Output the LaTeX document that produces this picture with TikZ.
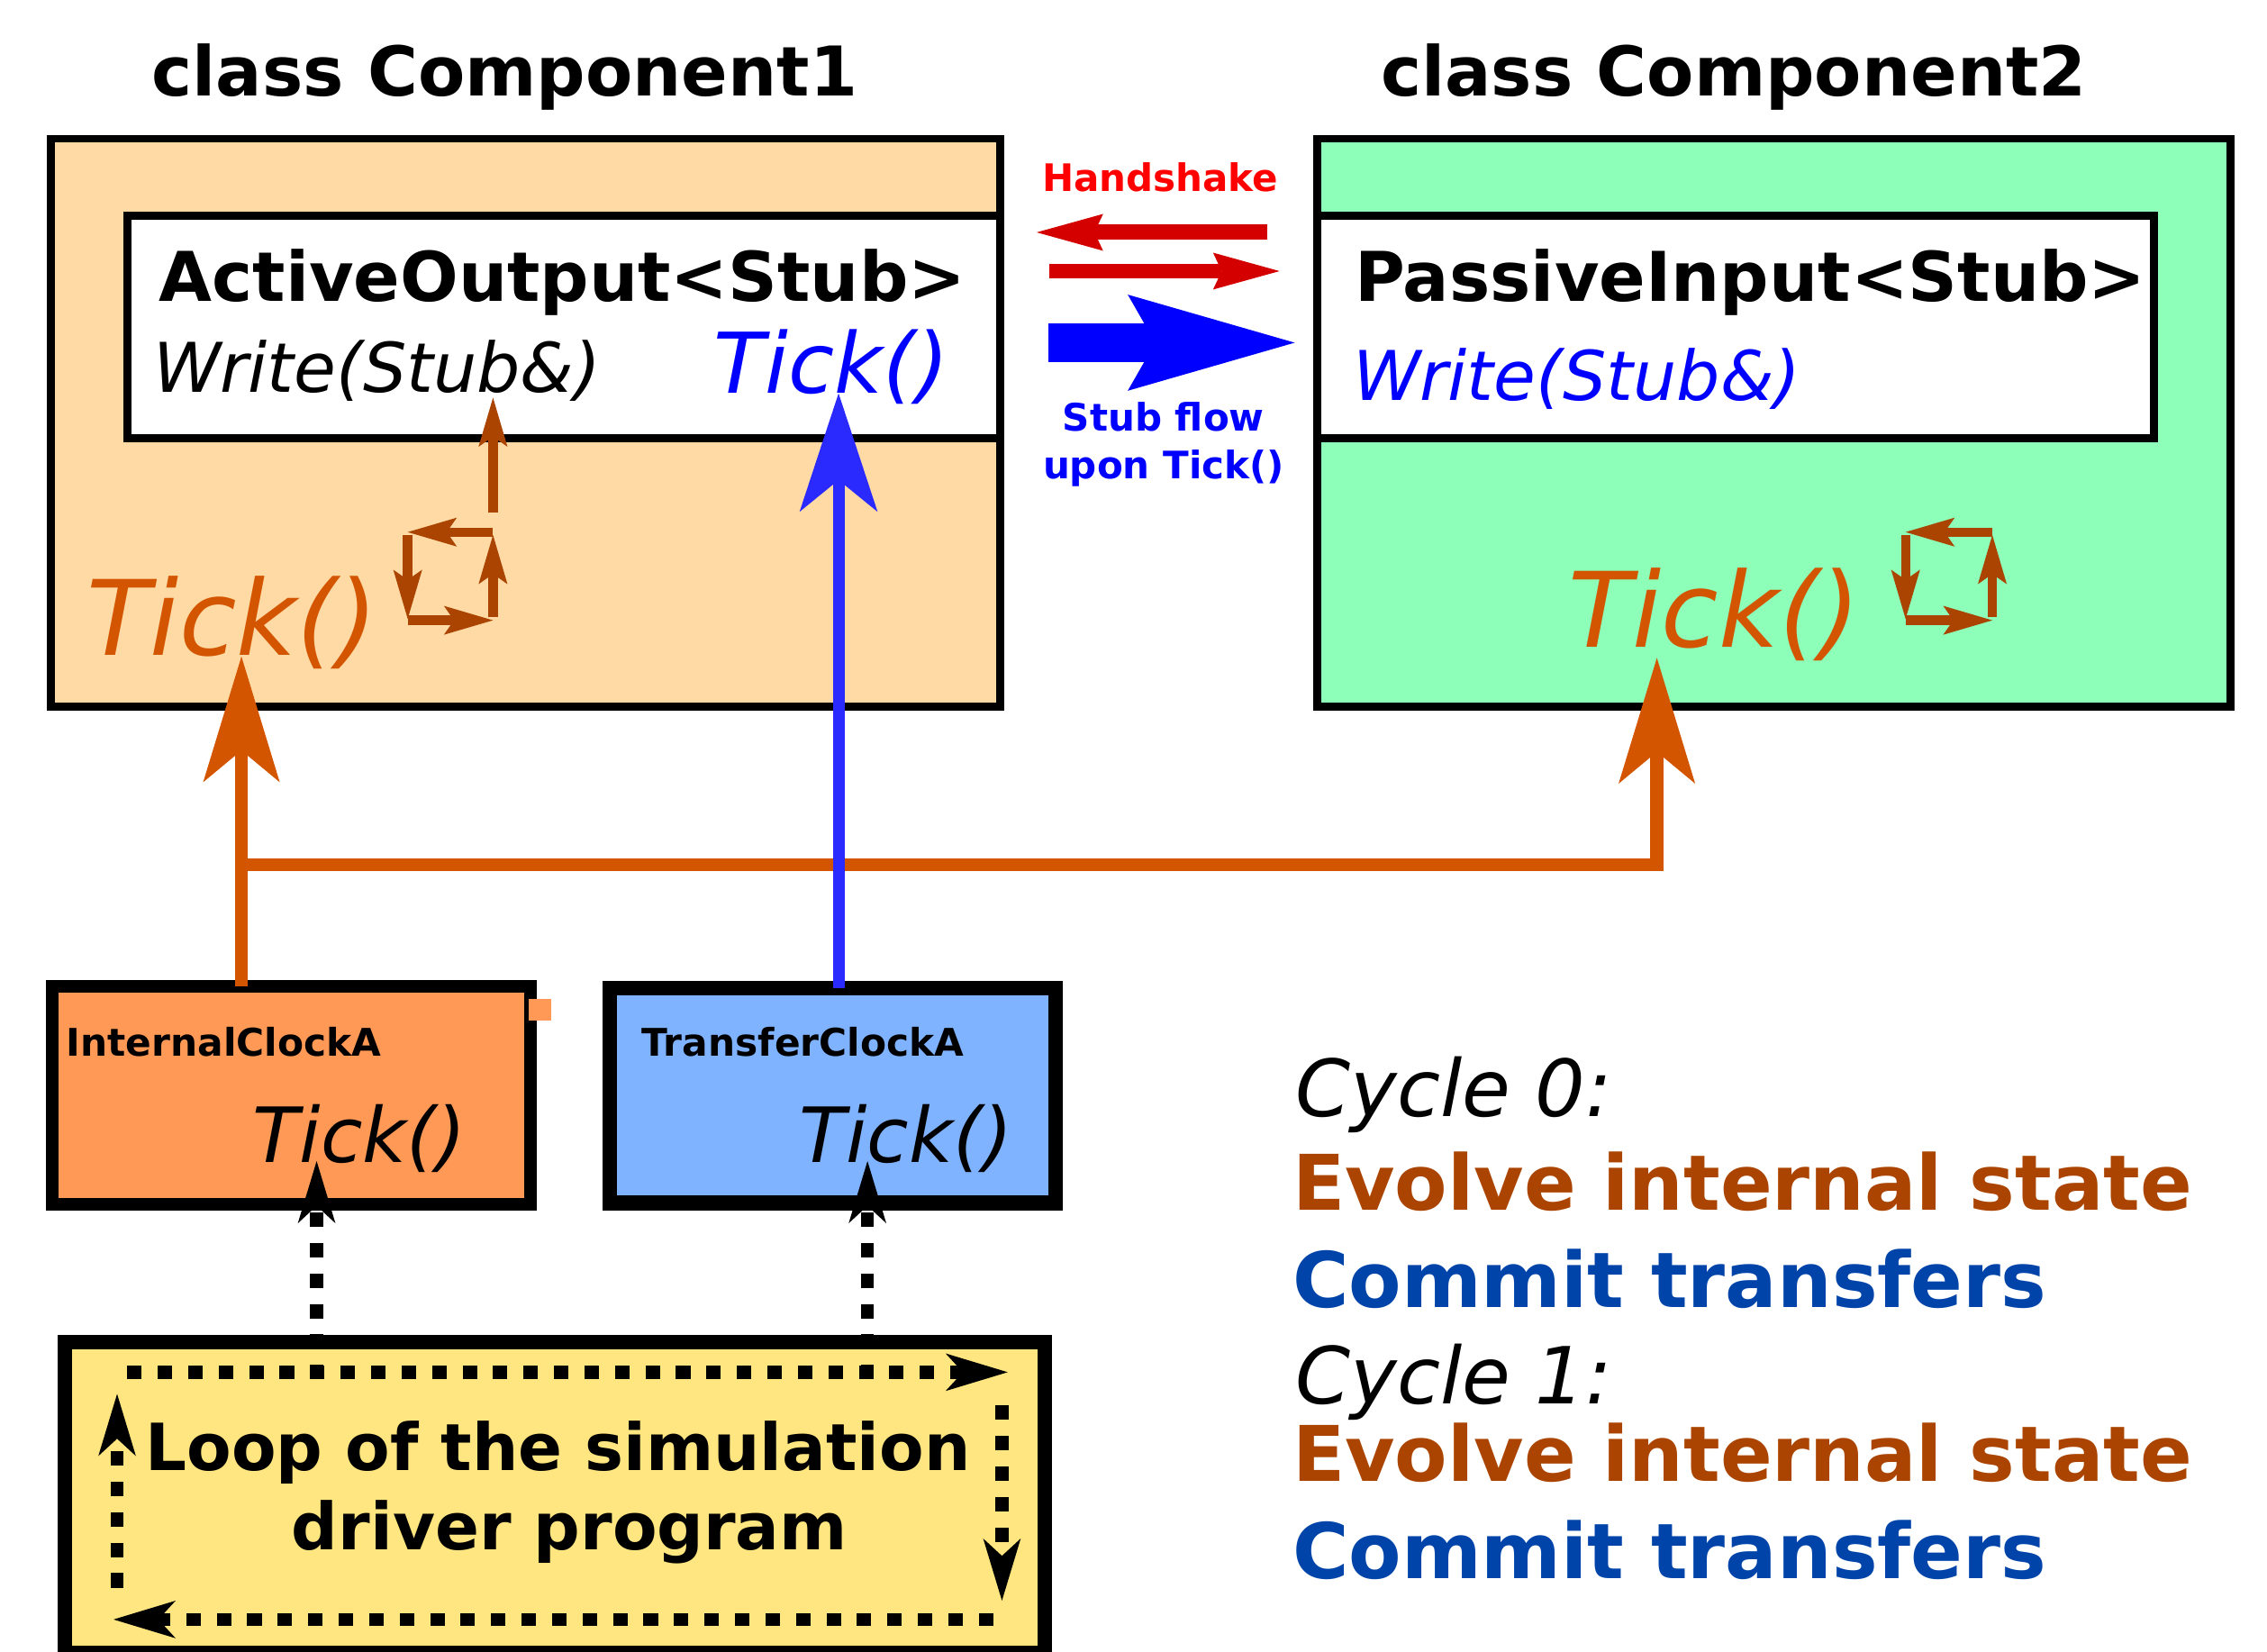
\documentclass[tikz,border=0pt]{standalone}
\usepackage{fontspec}
\setmainfont{DejaVu Sans}[ItalicFont={DejaVu Sans Oblique},BoldFont={DejaVu Sans Bold},BoldItalicFont={DejaVu Sans Bold Oblique}]
\usetikzlibrary{arrows.meta}

\definecolor{compAfill}{HTML}{FFDAA5}
\definecolor{compBfill}{HTML}{8DFFB8}
\definecolor{intclk}{HTML}{FF9955}
\definecolor{xferclk}{HTML}{80B3FF}
\definecolor{loopfill}{HTML}{FFE680}
\definecolor{tickorange}{HTML}{D45500}
\definecolor{evolvebrown}{HTML}{AA4400}
\definecolor{commitblue}{HTML}{0044AA}
\definecolor{shakered}{HTML}{D40000}
\definecolor{labelred}{HTML}{FF0000}
\definecolor{flowblue}{HTML}{0000FF}
\definecolor{xferblue}{HTML}{2A2AFF}

\tikzset{
  lbl/.style={inner sep=0pt, outer sep=0pt, anchor=base west},
  clbl/.style={inner sep=0pt, outer sep=0pt, anchor=base},
  frame/.style={draw=black, inner sep=0pt, outer sep=0pt, anchor=north west},
  fbig/.style={font=\fontsize{27}{32}\selectfont\bfseries},
  fmeth/.style={font=\fontsize{27}{32}\selectfont\itshape},
  fsmall/.style={font=\fontsize{14.9}{18}\selectfont\bfseries},
  fcycle/.style={font=\fontsize{31}{37}\selectfont\itshape},
  fstep/.style={font=\fontsize{30.2}{36}\selectfont\bfseries},
  orangeflow/.style={draw=tickorange, line width=5.1pt,
    -{Stealth[length=1.74cm,width=1.06cm,inset=0.44cm,line width=0pt]}},
  blueflow/.style={draw=xferblue, line width=4.6pt,
    -{Stealth[length=1.64cm,width=1.08cm,inset=0.44cm,line width=0pt]}},
  cyclearrow/.style={draw=evolvebrown, line width=3.7pt,
    -{Stealth[length=0.68cm,width=0.40cm,inset=0.14cm,line width=0pt]}},
  shakearrow/.style={draw=shakered, line width=6pt,
    -{Stealth[length=0.92cm,width=0.51cm,inset=0.12cm,line width=0pt]}},
  stubarrow/.style={draw=flowblue, line width=15.1pt,
    -{Stealth[length=2.31cm,width=1.33cm,inset=0.38cm,line width=0pt]}},
  loopdots/.style={draw=black, line width=5.1pt, dash pattern=on 5.7pt off 6.3pt,
    -{Stealth[length=0.86cm,width=0.52cm,inset=0.24cm,line width=0pt]}},
}

\begin{document}
\begin{tikzpicture}[x=0.02cm, y=-0.02cm]
\useasboundingbox (0,0) rectangle (1568,1142);

% ---- the two component classes ----
\node[lbl, fbig] (title1) at (105,66.5) {class Component1};
\node[lbl, fbig] (title2) at (955,66.5) {class Component2};

\node[frame, line width=3.1pt, fill=compAfill, minimum width=13.14cm, minimum height=7.86cm] (comp1) at (35,96) {};
\node[frame, line width=3.1pt, fill=compBfill, minimum width=12.64cm, minimum height=7.86cm] (comp2) at (911,96) {};

\node[frame, line width=3.1pt, fill=white, minimum width=12.08cm, minimum height=3.08cm] (active) at (88,149) {};
\node[frame, line width=3.1pt, fill=white, minimum width=11.58cm, minimum height=3.08cm] (passive) at (911,149) {};

\node[lbl, fbig] (activeName) at (110,208.5) {ActiveOutput<Stub>};
\node[lbl, fmeth] (activeWrite) at (106,271.5) {Write(Stub\&)};
\node[lbl, font=\fontsize{33}{39}\selectfont\itshape, text=flowblue] (activeTick) at (494,272) {Tick()};

\node[lbl, fbig] (passiveName) at (937,208.5) {PassiveInput<Stub>};
\node[lbl, fmeth, text=flowblue] (passiveWrite) at (936,277) {Write(Stub\&)};

\node[lbl, font=\fontsize{41}{48}\selectfont\itshape, text=tickorange] (tick1) at (60,453.5) {Tick()};
\node[lbl, font=\fontsize{41}{48}\selectfont\itshape, text=tickorange] (tick2) at (1085,447.6) {Tick()};

% ---- internal state loops inside each component ----
\coordinate (la) at (341,368); \coordinate (lb) at (282,368);
\coordinate (lc) at (282,370); \coordinate (ld) at (282,428);
\coordinate (le) at (282,429); \coordinate (lf) at (341,429);
\coordinate (lg) at (341,427); \coordinate (lh) at (341,370);
\coordinate (lup) at (341,354.5); \coordinate (lwrite) at (341,275);
\draw[cyclearrow] (la) -- (lb);
\draw[cyclearrow] (lc) -- (ld);
\draw[cyclearrow] (le) -- (lf);
\draw[cyclearrow] (lg) -- (lh);
\draw[cyclearrow] (lup) -- (lwrite);

\coordinate (ra) at (1378,368); \coordinate (rb) at (1318,368);
\coordinate (rc) at (1318,370); \coordinate (rd) at (1318,428);
\coordinate (re) at (1318,429); \coordinate (rf) at (1378,429);
\coordinate (rg) at (1378,427); \coordinate (rh) at (1378,370);
\draw[cyclearrow] (ra) -- (rb);
\draw[cyclearrow] (rc) -- (rd);
\draw[cyclearrow] (re) -- (rf);
\draw[cyclearrow] (rg) -- (rh);

% ---- handshake and stub flow between the ports ----
\node[clbl, fsmall, text=labelred] (hsLabel) at (802.5,132.5) {Handshake};
\coordinate (hsBackFrom) at (876.6,160.7); \coordinate (hsBackTo) at (717,160.7);
\coordinate (hsFwdFrom) at (726,187.5); \coordinate (hsFwdTo) at (885,187.5);
\draw[shakearrow] (hsBackFrom) -- (hsBackTo);
\draw[shakearrow] (hsFwdFrom) -- (hsFwdTo);
\coordinate (stubFrom) at (725,237); \coordinate (stubTo) at (895.5,237);
\draw[stubarrow] (stubFrom) -- (stubTo);
\node[clbl, fsmall, text=flowblue] (flowLabel1) at (804.8,298) {Stub flow};
\node[clbl, fsmall, text=flowblue] (flowLabel2) at (804.8,331) {upon Tick()};

% ---- clocks ----
\node[frame, line width=4.8pt, fill=intclk, minimum width=6.62cm, minimum height=3.02cm] (intClock) at (36,682) {};
\fill[intclk] (365.5,691) rectangle (381,706);
\node[frame, line width=5.7pt, fill=xferclk, minimum width=6.16cm, minimum height=2.97cm] (xferClock) at (422,683.5) {};
\node[lbl, font=\fontsize{15}{18}\selectfont\bfseries] (intName) at (46,730.5) {InternalClockA};
\node[lbl, font=\fontsize{15}{18}\selectfont\bfseries] (xferName) at (444,730.5) {TransferClockA};
\node[lbl, font=\fontsize{30}{36}\selectfont\itshape] (intTick) at (175,804) {Tick()};
\node[lbl, font=\fontsize{30}{36}\selectfont\itshape] (xferTick) at (553,804) {Tick()};

% ---- clock ticks fan out to the components ----
\coordinate (intOut) at (167,682);
\coordinate (fork) at (167,598);
\coordinate (tick1In) at (167,454);
\coordinate (tick2In) at (1146,455);
\draw[orangeflow] (intOut) -- (tick1In);
\draw[orangeflow] (fork) -| (tick2In);
\coordinate (xferOut) at (580,683.5);
\coordinate (activeTickIn) at (580,272);
\draw[blueflow] (xferOut) -- (activeTickIn);

% ---- simulation driver loop ----
\node[frame, line width=5.7pt, fill=loopfill, minimum width=13.56cm, minimum height=4.3cm] (driver) at (45,928) {};
\node[clbl, font=\fontsize{25.6}{30}\selectfont\bfseries] (driverText1) at (386,1017) {Loop of the simulation};
\node[clbl, font=\fontsize{25.6}{30}\selectfont\bfseries] (driverText2) at (394,1071.7) {driver program};

\coordinate (lpA) at (88,949);   \coordinate (lpB) at (697,949);
\coordinate (lpC) at (693,972);  \coordinate (lpD) at (693,1107);
\coordinate (lpE) at (687,1120); \coordinate (lpF) at (78.5,1120);
\coordinate (lpG) at (81,1098);  \coordinate (lpH) at (81,964);
\draw[loopdots] (lpA) -- (lpB);
\draw[loopdots] (lpC) -- (lpD);
\draw[loopdots] (lpE) -- (lpF);
\draw[loopdots] (lpG) -- (lpH);

\coordinate (callInt) at (219,954);  \coordinate (intTickIn) at (219,803);
\coordinate (callXfer) at (600,954); \coordinate (xferTickIn) at (600,803);
\draw[loopdots] (callInt) -- (intTickIn);
\draw[loopdots] (callXfer) -- (xferTickIn);

% ---- cycle legend ----
\node[lbl, fcycle] (cyc0) at (896,772) {Cycle 0:};
\node[lbl, fstep, text=evolvebrown] (evolve0) at (894,837) {Evolve internal state};
\node[lbl, fstep, text=commitblue] (commit0) at (894,904.4) {Commit transfers};
\node[lbl, fcycle] (cyc1) at (896,971) {Cycle 1:};
\node[lbl, fstep, text=evolvebrown] (evolve1) at (894,1024.7) {Evolve internal state};
\node[lbl, fstep, text=commitblue] (commit1) at (894,1091.6) {Commit transfers};
\node[lbl, font=\fontsize{45}{54}\selectfont\bfseries] (more) at (904,1160) {...};
\end{tikzpicture}
\end{document}
